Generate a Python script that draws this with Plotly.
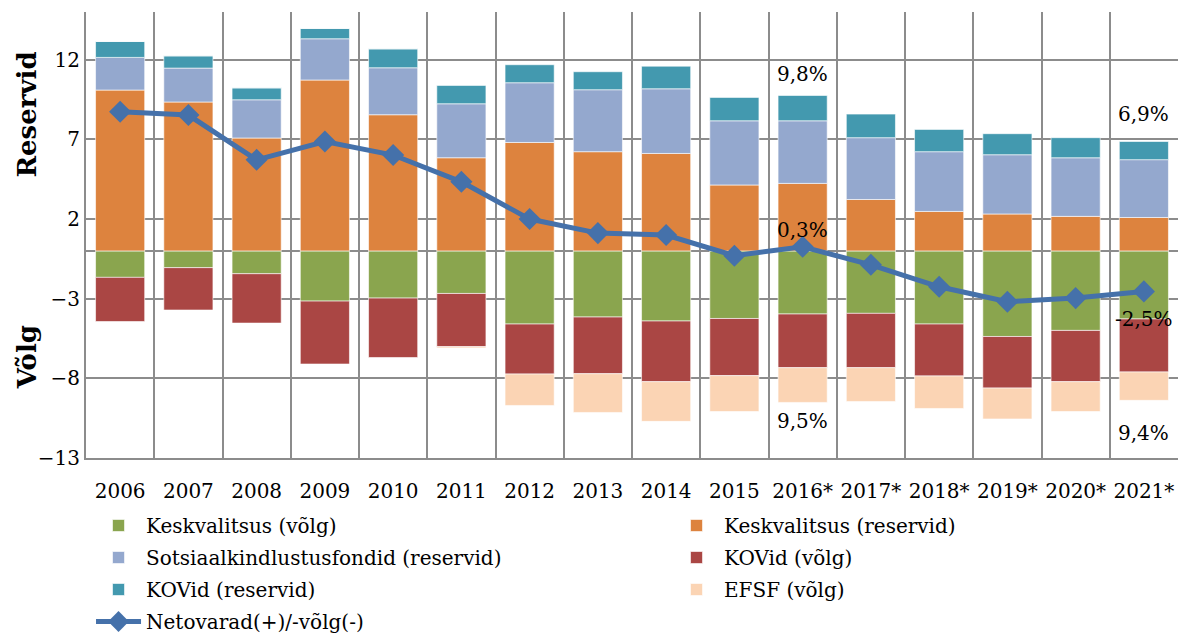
import plotly.graph_objects as go

# years on the category axis
years = ["2006", "2007", "2008", "2009", "2010", "2011", "2012", "2013",
         "2014", "2015", "2016*", "2017*", "2018*", "2019*", "2020*", "2021*"]

# reserves (positive part)
kv_reservid = [10.1, 9.35, 7.09, 10.73, 8.55, 5.85, 6.81, 6.23, 6.12, 4.14, 4.24, 3.23, 2.48, 2.32, 2.17, 2.10]
sotsiaal_reservid = [2.05, 2.13, 2.40, 2.59, 2.95, 3.39, 3.75, 3.89, 4.06, 4.03, 3.93, 3.88, 3.75, 3.72, 3.68, 3.63]
kov_reservid = [1.00, 0.77, 0.75, 0.65, 1.19, 1.15, 1.13, 1.13, 1.42, 1.47, 1.59, 1.48, 1.40, 1.32, 1.26, 1.14]

# debt (negative part)
kv_volg = [-1.66, -1.05, -1.43, -3.15, -2.96, -2.67, -4.59, -4.15, -4.40, -4.24, -3.96, -3.92, -4.59, -5.37, -4.99, -4.27]
kov_volg = [-2.77, -2.66, -3.10, -3.95, -3.73, -3.34, -3.14, -3.56, -3.81, -3.59, -3.37, -3.41, -3.26, -3.24, -3.22, -3.33]
efsf_volg = [0, 0, 0, 0, 0, -0.08, -1.97, -2.43, -2.49, -2.25, -2.18, -2.12, -2.04, -1.94, -1.87, -1.78]

# net assets line
netovarad = [8.74, 8.53, 5.72, 6.87, 6.02, 4.34, 2.0, 1.12, 1.0, -0.30, 0.26, -0.87, -2.25, -3.19, -2.96, -2.54]

# percentage labels: (category, y, text)
pct_labels = [("2016*", 11.1, "9,8%"), ("2016*", 1.3, "0,3%"), ("2016*", -10.65, "9,5%"),
              ("2021*", 8.6, "6,9%"), ("2021*", -4.25, "-2,5%"), ("2021*", -11.4, "9,4%")]

FONT = "DejaVu Serif"
bar_line = dict(width=1, color="rgba(255,255,255,0.6)")

fig = go.Figure()
# one legend per entry, so the two-column layout can be placed exactly
fig.add_trace(go.Bar(x=years, y=kv_volg, name="Keskvalitsus (võlg)", legend="legend",
                     marker=dict(color="#8AA54E", line=bar_line)))
fig.add_trace(go.Bar(x=years, y=kv_reservid, name="Keskvalitsus (reservid)", legend="legend2",
                     marker=dict(color="#DD833E", line=bar_line)))
fig.add_trace(go.Bar(x=years, y=sotsiaal_reservid, name="Sotsiaalkindlustusfondid (reservid)", legend="legend3",
                     marker=dict(color="#94A8CE", line=bar_line)))
fig.add_trace(go.Bar(x=years, y=kov_volg, name="KOVid (võlg)", legend="legend4",
                     marker=dict(color="#AA4644", line=bar_line)))
fig.add_trace(go.Bar(x=years, y=kov_reservid, name="KOVid (reservid)", legend="legend5",
                     marker=dict(color="#4399AF", line=bar_line)))
fig.add_trace(go.Bar(x=years, y=efsf_volg, name="EFSF (võlg)", legend="legend6",
                     marker=dict(color="#FBD4B4", line=bar_line)))
fig.add_trace(go.Scatter(x=years, y=netovarad, name="Netovarad(+)/-võlg(-)", legend="legend7",
                         mode="lines+markers", line=dict(color="#4571AA", width=5),
                         marker=dict(symbol="diamond", size=17, color="#4571AA")))
fig.update_traces(showlegend=True)

for cat, yv, txt in pct_labels:
    fig.add_annotation(x=cat, y=yv, text=txt, showarrow=False, font=dict(size=20, color="black", family=FONT))

# axis titles
fig.add_annotation(xref="paper", yref="paper", x=-0.054, y=0.77, text="<b>Reservid</b>", textangle=-90,
                   xanchor="center", yanchor="middle",
                   showarrow=False, font=dict(size=26, color="black", family=FONT))
fig.add_annotation(xref="paper", yref="paper", x=-0.054, y=0.226, text="<b>Võlg</b>", textangle=-90,
                   xanchor="center", yanchor="middle",
                   showarrow=False, font=dict(size=26, color="black", family=FONT))

leg = dict(orientation="h", xanchor="left", yanchor="top",
           font=dict(size=20, family=FONT), itemwidth=45, bgcolor="rgba(0,0,0,0)")
col1, col2 = 0.0046, 0.5339
row_y = [-0.1076, -0.1794, -0.2511, -0.3229]

fig.update_layout(
    showlegend=True,
    barmode="relative",
    bargap=0.28,
    width=1189, height=641,
    margin=dict(l=78, r=19, t=4, b=191, autoexpand=False),
    plot_bgcolor="white", paper_bgcolor="white",
    font=dict(family=FONT, size=20, color="black"),
    legend=dict(leg, x=col1, y=row_y[0]),
    legend2=dict(leg, x=col2, y=row_y[0]),
    legend3=dict(leg, x=col1, y=row_y[1]),
    legend4=dict(leg, x=col2, y=row_y[1]),
    legend5=dict(leg, x=col1, y=row_y[2]),
    legend6=dict(leg, x=col2, y=row_y[2]),
    legend7=dict(leg, x=col1, y=row_y[3]),
)
fig.update_xaxes(type="category", range=[-0.5, 15.5], tickson="boundaries", showgrid=True,
                 gridcolor="#8C8C8C", gridwidth=2, ticklabelstandoff=14,
                 showline=True, linecolor="#8C8C8C", linewidth=2, ticks="", tickangle=0, automargin=False,
                 tickfont=dict(size=20, family=FONT))
fig.update_yaxes(range=[-13, 15], tick0=-13, dtick=5, showgrid=True, gridcolor="#8C8C8C", gridwidth=2,
                 zeroline=True, zerolinecolor="#8C8C8C", zerolinewidth=2, automargin=False,
                 showline=True, linecolor="#8C8C8C", linewidth=2, ticks="",
                 tickfont=dict(size=20, family=FONT))

fig.write_html("out.html")
